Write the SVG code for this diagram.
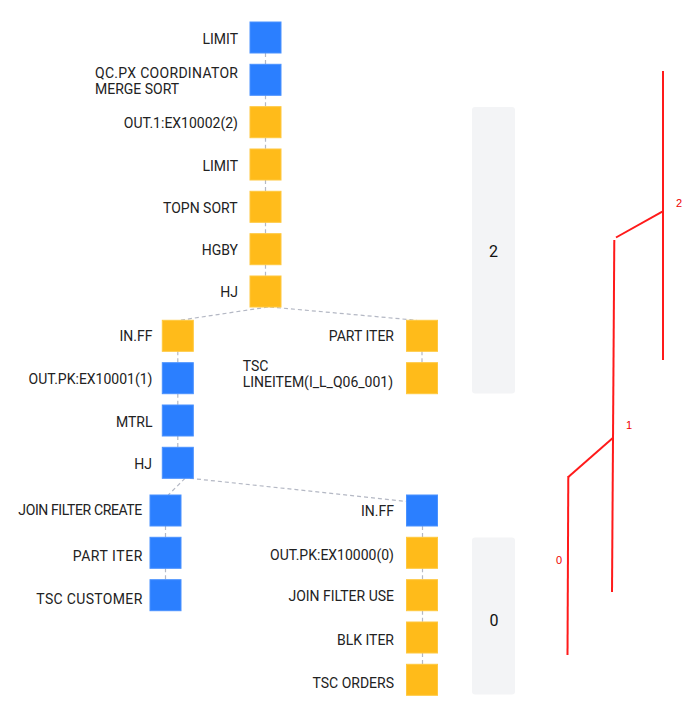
<svg xmlns="http://www.w3.org/2000/svg" width="690" height="713" viewBox="0 0 690 713">
<style>
.b{fill:#2b7fff;stroke:#4a92ff;stroke-width:1}
.o{fill:#ffbb1a;stroke:#ffc83e;stroke-width:1}
.t{font-family:Roboto,"Liberation Sans",sans-serif;font-size:14px;fill:#222}
.e{text-anchor:end}
.c{stroke:#b4b8c4;stroke-width:1.2;stroke-dasharray:4 3;fill:none}
.p{fill:#f3f4f6}
.pl{font-family:Roboto,"Liberation Sans",sans-serif;font-size:16px;fill:#111;text-anchor:middle}
.r{stroke:#ff1a1a;stroke-width:2;fill:none}
.rl{font-family:"Liberation Sans",Arial,sans-serif;font-size:11px;fill:#e00}
</style>
<rect width="690" height="713" fill="#fff"/>
<g id="panels">
<rect class="p" x="472" y="107" width="43" height="286.5" rx="3"/>
<text class="pl" x="493.5" y="256.5">2</text>
<rect class="p" x="472" y="537.5" width="43" height="157" rx="3"/>
<text class="pl" x="494" y="626">0</text>
</g>
<g id="connectors">
<line class="c" x1="265.5" y1="53" x2="265.5" y2="64.3"/>
<line class="c" x1="265.5" y1="95.3" x2="265.5" y2="106.7"/>
<line class="c" x1="265.5" y1="137.7" x2="265.5" y2="149"/>
<line class="c" x1="265.5" y1="180" x2="265.5" y2="191.3"/>
<line class="c" x1="265.5" y1="222.3" x2="265.5" y2="233.7"/>
<line class="c" x1="265.5" y1="264.7" x2="265.5" y2="276"/>
<line class="c" x1="268" y1="307" x2="178.3" y2="320.5"/>
<line class="c" x1="270" y1="307" x2="417" y2="320.3"/>
<line class="c" x1="177.8" y1="351.3" x2="177.8" y2="362.7"/>
<line class="c" x1="177.8" y1="393.7" x2="177.8" y2="405"/>
<line class="c" x1="177.8" y1="436" x2="177.8" y2="447.3"/>
<line class="c" x1="422" y1="351.3" x2="422" y2="362.7"/>
<line class="c" x1="185" y1="478.3" x2="168.3" y2="495"/>
<line class="c" x1="190" y1="478.3" x2="407" y2="501.5"/>
<line class="c" x1="165.5" y1="526" x2="165.5" y2="537.3"/>
<line class="c" x1="165.5" y1="568.3" x2="165.5" y2="579.7"/>
<line class="c" x1="422.5" y1="526" x2="422.5" y2="537.3"/>
<line class="c" x1="422.5" y1="568.3" x2="422.5" y2="579.7"/>
<line class="c" x1="422.5" y1="610.7" x2="422.5" y2="622"/>
<line class="c" x1="422.5" y1="653" x2="422.5" y2="664.3"/>
</g>
<g id="n-limit"><rect class="b" x="250" y="22" width="31" height="31"/><text class="t e" x="238" y="43.5">LIMIT</text></g>
<g id="n-qcpx"><rect class="b" x="250" y="64.3" width="31" height="31"/><text class="t" x="95" y="78.3" textLength="143" lengthAdjust="spacing">QC.PX COORDINATOR</text><text class="t" x="95" y="94">MERGE SORT</text></g>
<g id="n-out1"><rect class="o" x="250" y="106.7" width="31" height="31"/><text class="t e" x="238" y="128.2">OUT.1:EX10002(2)</text></g>
<g id="n-limit2"><rect class="o" x="250" y="149" width="31" height="31"/><text class="t e" x="238" y="170.5">LIMIT</text></g>
<g id="n-topn"><rect class="o" x="250" y="191.3" width="31" height="31"/><text class="t e" x="237.5" y="213">TOPN SORT</text></g>
<g id="n-hgby"><rect class="o" x="250" y="233.7" width="31" height="31"/><text class="t e" x="238" y="255.2">HGBY</text></g>
<g id="n-hj1"><rect class="o" x="250" y="276" width="31" height="31"/><text class="t e" x="238" y="297.3">HJ</text></g>
<g id="n-inff1"><rect class="o" x="162.3" y="320.3" width="31" height="31"/><text class="t e" x="152.5" y="341">IN.FF</text></g>
<g id="n-partiter1"><rect class="o" x="406.5" y="320.3" width="31" height="31"/><text class="t e" x="394" y="341">PART ITER</text></g>
<g id="n-outpk1"><rect class="b" x="162.3" y="362.7" width="31" height="31"/><text class="t e" x="152.5" y="384">OUT.PK:EX10001(1)</text></g>
<g id="n-tsclineitem"><rect class="o" x="406.5" y="362.7" width="31" height="31"/><text class="t" x="242.7" y="370.7">TSC</text><text class="t" x="242.7" y="387.3">LINEITEM(I_L_Q06_001)</text></g>
<g id="n-mtrl"><rect class="b" x="162.3" y="405" width="31" height="31"/><text class="t e" x="152.5" y="426.5">MTRL</text></g>
<g id="n-hj2"><rect class="b" x="162.3" y="447.3" width="31" height="31"/><text class="t e" x="152" y="468.5">HJ</text></g>
<g id="n-jfc"><rect class="b" x="150" y="495" width="31" height="31"/><text class="t" x="18.3" y="515.3" textLength="124" lengthAdjust="spacing">JOIN FILTER CREATE</text></g>
<g id="n-inff2"><rect class="b" x="406.5" y="495" width="31" height="31"/><text class="t e" x="394" y="515.8">IN.FF</text></g>
<g id="n-partiter2"><rect class="b" x="150" y="537.3" width="31" height="31"/><text class="t" x="72.7" y="561" textLength="69.6" lengthAdjust="spacing">PART ITER</text></g>
<g id="n-outpk0"><rect class="o" x="406.5" y="537.3" width="31" height="31"/><text class="t e" x="394" y="560">OUT.PK:EX10000(0)</text></g>
<g id="n-tsccustomer"><rect class="b" x="150" y="579.7" width="31" height="31"/><text class="t" x="36.3" y="603.5" textLength="106" lengthAdjust="spacing">TSC CUSTOMER</text></g>
<g id="n-jfu"><rect class="o" x="406.5" y="579.7" width="31" height="31"/><text class="t e" x="394" y="601">JOIN FILTER USE</text></g>
<g id="n-blkiter"><rect class="o" x="406.5" y="622" width="31" height="31"/><text class="t e" x="394" y="645">BLK ITER</text></g>
<g id="n-tscorders"><rect class="o" x="406.5" y="664.3" width="31" height="31"/><text class="t e" x="394" y="688">TSC ORDERS</text></g>
<g id="timeline">
<line class="r" x1="663" y1="71" x2="663" y2="360"/>
<line class="r" x1="662.3" y1="211.7" x2="616" y2="237.5"/>
<line class="r" x1="614.3" y1="240" x2="612" y2="592"/>
<line class="r" x1="612.5" y1="438.3" x2="568.3" y2="477"/>
<line class="r" x1="568.3" y1="476" x2="567.5" y2="655"/>
<text class="rl" x="676" y="206.5">2</text>
<text class="rl" x="626" y="428.5">1</text>
<text class="rl" x="556" y="563.5">0</text>
</g>
</svg>
